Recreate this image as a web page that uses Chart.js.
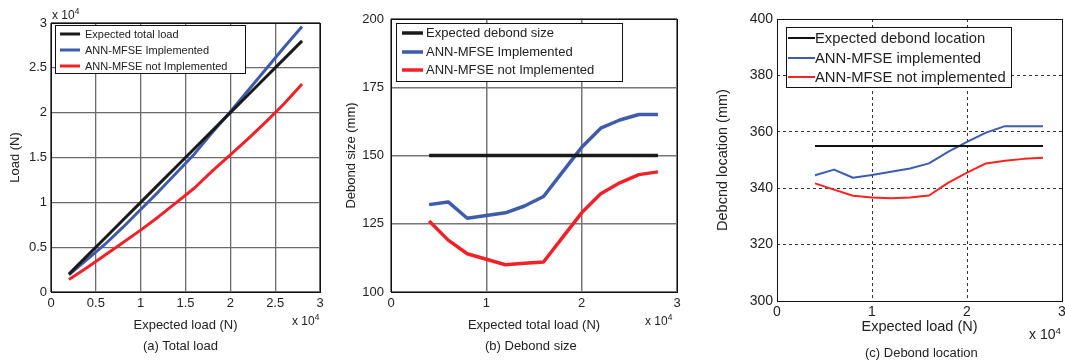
<!DOCTYPE html>
<html><head><meta charset="utf-8">
<script src="https://cdn.jsdelivr.net/npm/chart.js@4/dist/chart.umd.min.js"></script>
<style>
html,body{margin:0;padding:0;background:#fff;}
#wrap{position:relative;width:1065px;height:364px;overflow:hidden;background:#fff;font-family:"Liberation Sans",Arial,sans-serif;color:#222;}
canvas{position:absolute;top:0;}
.t{position:absolute;white-space:nowrap;line-height:1;}
.t sup{font-size:0.7em;vertical-align:0.55em;}
</style></head>
<body>
<div id="wrap">
<canvas id="ca" width="336" height="364" style="left:0"></canvas>
<canvas id="cb" width="364" height="364" style="left:336px"></canvas>
<canvas id="cc" width="365" height="364" style="left:700px"></canvas>
<div class="t" style="left:52px;top:7px;font-size:12px">x 10<sup>4</sup></div>
<div class="t" style="left:292px;top:313px;font-size:12px">x 10<sup>4</sup></div>
<div class="t" style="left:143px;top:339px;font-size:13px">(a) Total load</div>
<div class="t" style="left:645px;top:313px;font-size:12px">x 10<sup>4</sup></div>
<div class="t" style="left:485px;top:339px;font-size:13px">(b) Debond size</div>
<div class="t" style="left:1029px;top:326px;font-size:14px">x 10<sup>4</sup></div>
<div class="t" style="left:865px;top:346px;font-size:13px">(c) Debond location</div>
</div>
<script>
// ---- data ----
const loadA = [2000,4000,6000,8000,10000,12000,14000,16000,18000,20000,22000,24000,26000,28000];
const expectedA = [2000,4000,6000,8000,10000,12000,14000,16000,18000,20000,22000,24000,26000,28000];
const implA = [1900,3600,5300,7200,9200,11200,13300,15400,17800,20100,22500,24900,27300,29600];
const notImplA = [1400,2700,4100,5500,6900,8400,10000,11600,13500,15300,17100,19000,21000,23200];

const loadB = [4000,6000,8000,10000,12000,14000,16000,18000,20000,22000,24000,26000,28000];
const expectedB = [150,150,150,150,150,150,150,150,150,150,150,150,150];
const implB = [132,133,127,128,129,131.5,135,144,153,160,163,165,165];
const notImplB = [126,119,114,112,110,110.5,111,120,129,136,140,143,144];

const loadC = [4000,6000,8000,10000,12000,14000,16000,18000,20000,22000,24000,26000,28000];
const expectedC = [355,355,355,355,355,355,355,355,355,355,355,355,355];
const implC = [344.6,346.6,343.7,344.7,345.8,347,348.8,352.9,356.4,359.7,362,362,362];
const notImplC = [341.7,339.5,337.3,336.7,336.4,336.7,337.4,341.9,345.5,348.8,349.7,350.4,350.8];

const labelsA = ['Expected total load','ANN-MFSE Implemented','ANN-MFSE not Implemented'];
const labelsB = ['Expected debond size','ANN-MFSE Implemented','ANN-MFSE not Implemented'];
const labelsC = ['Expected debond location','ANN-MFSE implemented','ANN-MFSE not implemented'];

const FONT = '"Liberation Sans", Arial, sans-serif';
const pts = (xs, ys) => xs.map((x, i) => ({x, y: ys[i]}));

const boxPlugin = {
  id: 'boxLegend',
  afterDatasetsDraw(chart, args, o) {
    const ctx = chart.ctx, a = chart.chartArea;
    ctx.save();
    ctx.strokeStyle = '#111'; ctx.lineWidth = 1; ctx.setLineDash([]);
    ctx.strokeRect(Math.round(a.left)+0.5, Math.round(a.top)+0.5, Math.round(a.right-a.left), Math.round(a.bottom-a.top));
    // legend
    ctx.fillStyle = '#fff';
    ctx.fillRect(o.x, o.y, o.w, o.h);
    ctx.strokeRect(o.x+0.5, o.y+0.5, o.w, o.h);
    ctx.font = o.size + 'px ' + FONT;
    ctx.textBaseline = 'middle';
    chart.data.datasets.forEach((ds, i) => {
      const yy = o.rows[i];
      ctx.strokeStyle = ds.borderColor; ctx.lineWidth = o.lw;
      ctx.beginPath(); ctx.moveTo(o.l1, yy); ctx.lineTo(o.l2, yy); ctx.stroke();
      ctx.fillStyle = '#222';
      ctx.fillText(ds.label, o.tx, yy + 0.5);
    });
    ctx.restore();
  }
};

function makeChart(id, cfg) {
  const fitY = s => { s.width = cfg.yw; s.paddingTop = 0; s.paddingBottom = 0; };
  const fitX = s => { s.height = cfg.xh; s.paddingLeft = 0; s.paddingRight = 0; };
  return new Chart(document.getElementById(id), {
    type: 'line',
    data: { datasets: cfg.series.map(s => ({
      label: s.label, data: s.data, borderColor: s.color, borderWidth: cfg.lw,
      pointRadius: 0, tension: 0, fill: false, borderJoinStyle: 'round', borderCapStyle: 'butt'
    })) },
    options: {
      responsive: false, animation: false, events: [],
      layout: { padding: cfg.pad },
      plugins: { legend: { display: false }, tooltip: { enabled: false }, boxLegend: cfg.legend },
      scales: {
        x: { type: 'linear', min: cfg.xmin, max: cfg.xmax, afterFit: fitX,
          ticks: { stepSize: cfg.xstep, padding: cfg.xtp, color: '#222', maxRotation: 0, autoSkip: false,
            font: { family: FONT, size: cfg.tick }, callback: v => String(+(v / 10000).toFixed(2)) },
          grid: { drawTicks: false, color: cfg.gridColor, lineWidth: cfg.gridW },
          border: { display: false, dash: cfg.dash },
          title: { display: true, text: cfg.xtitle, color: '#222', font: { family: FONT, size: cfg.title }, padding: { top: 0, bottom: cfg.xtitlePad } } },
        y: { type: 'linear', min: cfg.ymin, max: cfg.ymax, afterFit: fitY,
          ticks: { stepSize: cfg.ystep, padding: cfg.ytp, color: '#222', autoSkip: false,
            font: { family: FONT, size: cfg.tick }, callback: cfg.ycb },
          grid: { drawTicks: false, color: cfg.gridColor, lineWidth: cfg.gridW },
          border: { display: false, dash: cfg.dash },
          title: { display: true, text: cfg.ytitle, color: '#222', font: { family: FONT, size: cfg.title }, padding: { top: cfg.ytitlePad, bottom: 0 } } }
      }
    },
    plugins: [boxPlugin]
  });
}

// (a) total load
makeChart('ca', {
  series: [
    { label: labelsA[0], data: pts(loadA, expectedA), color: '#1a1a1a' },
    { label: labelsA[1], data: pts(loadA, implA), color: '#3f5ba9' },
    { label: labelsA[2], data: pts(loadA, notImplA), color: '#ee2228' }
  ],
  lw: 3, pad: { left: 0, right: 16, top: 23, bottom: 0 }, yw: 51, xh: 72,
  xmin: 0, xmax: 30000, xstep: 5000, ymin: 0, ymax: 30000, ystep: 5000,
  ycb: v => String(+(v / 10000).toFixed(2)),
  tick: 13, title: 13, xtp: 4, ytp: 4, xtitlePad: 31, ytitlePad: 8,
  gridColor: '#6a6a6a', gridW: 1.3, dash: [],
  xtitle: 'Expected load (N)', ytitle: 'Load (N)',
  legend: { x: 55, y: 25, w: 190, h: 48, rows: [34, 50, 66], l1: 60, l2: 80, tx: 85, size: 11, lw: 3 }
});

// (b) debond size
makeChart('cb', {
  series: [
    { label: labelsB[0], data: pts(loadB, expectedB), color: '#1a1a1a' },
    { label: labelsB[1], data: pts(loadB, implB), color: '#3f5ba9' },
    { label: labelsB[2], data: pts(loadB, notImplB), color: '#ee2228' }
  ],
  lw: 3.5, pad: { left: 0, right: 23, top: 19, bottom: 0 }, yw: 55, xh: 72,
  xmin: 0, xmax: 30000, xstep: 10000, ymin: 100, ymax: 200, ystep: 25,
  ycb: v => String(v),
  tick: 13, title: 13, xtp: 4, ytp: 7, xtitlePad: 31, ytitlePad: 8,
  gridColor: '#777', gridW: 1.5, dash: [],
  xtitle: 'Expected total load (N)', ytitle: 'Debond size (mm)',
  legend: { x: 60, y: 23, w: 226, h: 58, rows: [33, 52, 70], l1: 66, l2: 87, tx: 90, size: 13, lw: 3.5 }
});

// (c) debond location
makeChart('cc', {
  series: [
    { label: labelsC[0], data: pts(loadC, expectedC), color: '#111' },
    { label: labelsC[1], data: pts(loadC, implC), color: '#3f5bb0' },
    { label: labelsC[2], data: pts(loadC, notImplC), color: '#ff2020' }
  ],
  lw: 2, pad: { left: 0, right: 3, top: 19, bottom: 0 }, yw: 77, xh: 63,
  xmin: 0, xmax: 30000, xstep: 10000, ymin: 300, ymax: 400, ystep: 20,
  ycb: v => String(v),
  tick: 14, title: 14.5, xtp: 3, ytp: 4, xtitlePad: 28, ytitlePad: 14,
  gridColor: '#333', gridW: 1, dash: [3, 3],
  xtitle: 'Expected load (N)', ytitle: 'Debcnd location (mm)',
  legend: { x: 86, y: 27, w: 225, h: 60, rows: [38, 58, 77], l1: 88, l2: 115, tx: 115, size: 14.8, lw: 2 }
});
</script>
</body></html>
